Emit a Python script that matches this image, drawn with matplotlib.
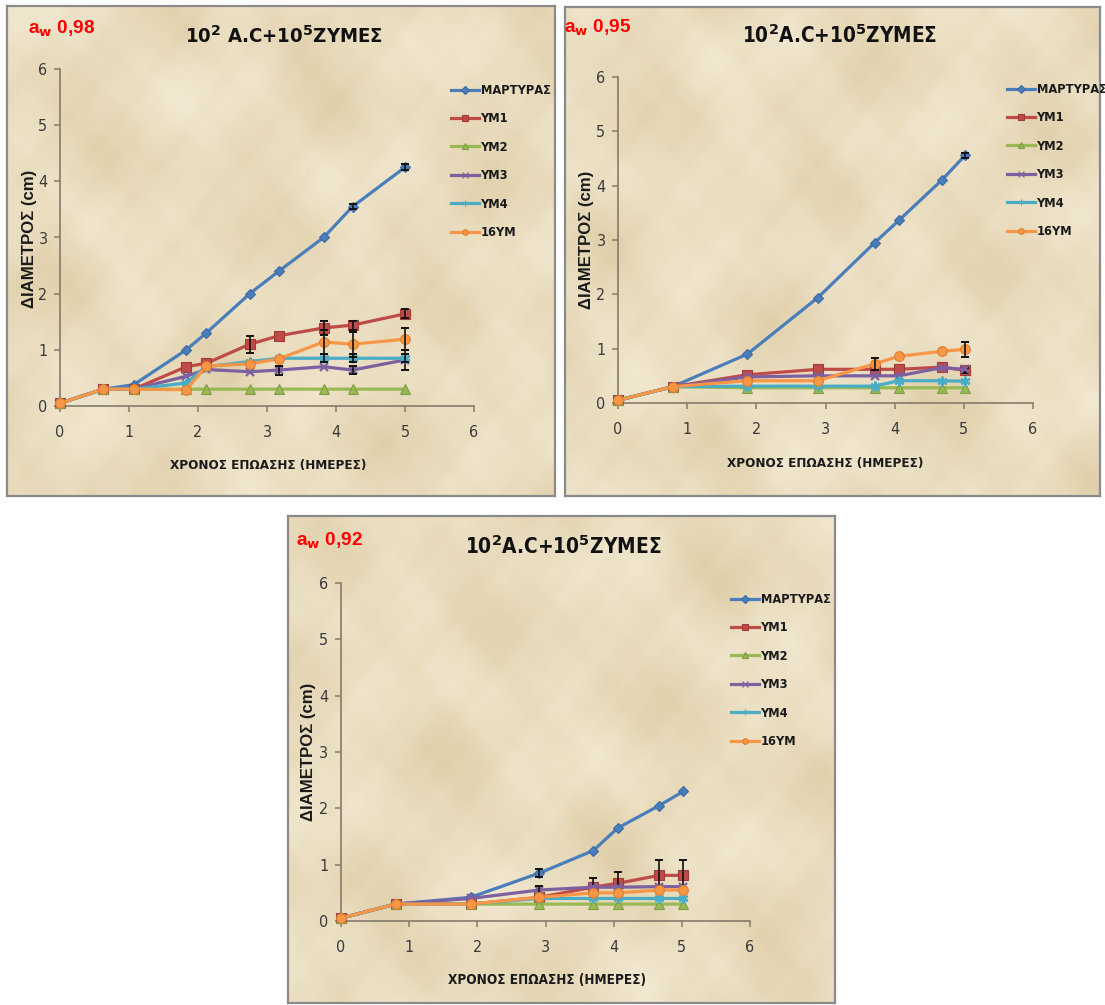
import os
import numpy as np
import matplotlib
matplotlib.use("Agg")
import matplotlib.pyplot as plt
from matplotlib.lines import Line2D
from matplotlib.font_manager import FontProperties, fontManager

# ---------------------------------------------------------------------------
# Data: colony diameter (cm) against incubation time (days)
# ---------------------------------------------------------------------------
series_names = ["ΜΑΡΤΥΡΑΣ", "YM1", "YM2", "YM3", "YM4", "16YM"]

# a_w 0,98
days_098 = [0, 0.63, 1.07, 1.83, 2.12, 2.75, 3.17, 3.82, 4.24, 5.0]
martyras_098 = [0.05, 0.30, 0.38, 1.00, 1.30, 2.00, 2.40, 3.00, 3.55, 4.25]
ym1_098 = [0.05, 0.30, 0.30, 0.70, 0.76, 1.10, 1.25, 1.39, 1.44, 1.64]
ym2_098 = [0.05, 0.30, 0.30, 0.30, 0.30, 0.30, 0.30, 0.30, 0.30, 0.30]
ym3_098 = [0.05, 0.30, 0.30, 0.53, 0.65, 0.61, 0.64, 0.70, 0.64, 0.82]
ym4_098 = [0.05, 0.30, 0.30, 0.41, 0.70, 0.79, 0.85, 0.85, 0.85, 0.85]
ym16_098 = [0.05, 0.30, 0.30, 0.29, 0.71, 0.75, 0.84, 1.14, 1.10, 1.19]
err_martyras_098 = [0, 0, 0, 0, 0, 0, 0, 0, 0.05, 0.05]
err_ym1_098 = [0, 0, 0, 0, 0, 0.15, 0, 0.13, 0.08, 0.08]
err_ym2_098 = [0, 0, 0, 0, 0, 0, 0, 0, 0, 0]
err_ym3_098 = [0, 0, 0, 0, 0, 0, 0.08, 0, 0.07, 0.18]
err_ym4_098 = [0, 0, 0, 0, 0, 0, 0, 0.07, 0.07, 0.07]
err_ym16_098 = [0, 0, 0, 0, 0, 0, 0, 0.22, 0.22, 0.20]

# a_w 0,95
days_095 = [0, 0.79, 1.87, 2.89, 3.71, 4.06, 4.68, 5.02]
martyras_095 = [0.05, 0.30, 0.90, 1.94, 2.95, 3.36, 4.10, 4.56]
ym1_095 = [0.05, 0.30, 0.52, 0.62, 0.62, 0.62, 0.66, 0.60]
ym2_095 = [0.05, 0.30, 0.28, 0.28, 0.28, 0.28, 0.28, 0.28]
ym3_095 = [0.05, 0.30, 0.48, 0.50, 0.50, 0.50, 0.65, 0.62]
ym4_095 = [0.05, 0.30, 0.31, 0.31, 0.31, 0.41, 0.41, 0.40]
ym16_095 = [0.05, 0.30, 0.41, 0.41, 0.72, 0.86, 0.95, 0.99]
err_martyras_095 = [0, 0, 0, 0, 0, 0, 0, 0.05]
err_ym1_095 = [0, 0, 0, 0, 0, 0, 0, 0.05]
err_ym2_095 = [0, 0, 0, 0, 0, 0, 0, 0]
err_ym3_095 = [0, 0, 0, 0, 0, 0, 0, 0]
err_ym4_095 = [0, 0, 0, 0, 0, 0, 0, 0]
err_ym16_095 = [0, 0, 0, 0, 0.11, 0, 0, 0.14]

# a_w 0,92
days_092 = [0, 0.80, 1.90, 2.91, 3.70, 4.06, 4.67, 5.02]
martyras_092 = [0.05, 0.30, 0.42, 0.85, 1.25, 1.65, 2.05, 2.30]
ym1_092 = [0.05, 0.30, 0.30, 0.42, 0.60, 0.67, 0.81, 0.81]
ym2_092 = [0.05, 0.30, 0.30, 0.30, 0.30, 0.30, 0.30, 0.30]
ym3_092 = [0.05, 0.30, 0.40, 0.55, 0.60, 0.60, 0.61, 0.61]
ym4_092 = [0.05, 0.30, 0.30, 0.40, 0.40, 0.40, 0.40, 0.40]
ym16_092 = [0.05, 0.30, 0.30, 0.42, 0.50, 0.50, 0.55, 0.55]
err_martyras_092 = [0, 0, 0, 0.07, 0, 0, 0, 0]
err_ym1_092 = [0, 0, 0, 0, 0.16, 0.20, 0.27, 0.27]
err_ym2_092 = [0, 0, 0, 0, 0, 0, 0, 0]
err_ym3_092 = [0, 0, 0, 0.08, 0, 0, 0, 0]
err_ym4_092 = [0, 0, 0, 0, 0, 0, 0, 0]
err_ym16_092 = [0, 0, 0, 0, 0, 0, 0, 0]

tick_values = [0, 1, 2, 3, 4, 5, 6]

# ---------------------------------------------------------------------------
# Fonts: prefer a narrow sans face, fall back to DejaVu Sans
# ---------------------------------------------------------------------------
_files = {os.path.basename(f.fname).lower(): f.fname for f in fontManager.ttflist}


def pick_file(names):
    for n in names:
        if n.lower() in _files:
            return _files[n.lower()]
    return None


_nb = pick_file(["LiberationSansNarrow-Bold.ttf", "ArialNarrowBold.ttf",
                 "DejaVuSansCondensed-Bold.ttf", "RobotoCondensed-Bold.ttf",
                 "OpenSans-CondensedBold.ttf", "OpenSans_Condensed-Bold.ttf"])
_nr = pick_file(["LiberationSansNarrow-Regular.ttf", "ArialNarrow.ttf",
                 "DejaVuSansCondensed.ttf", "RobotoCondensed-Regular.ttf",
                 "OpenSans-CondensedRegular.ttf", "OpenSans_Condensed-Regular.ttf"])
_sb = pick_file(["LiberationSans-Bold.ttf"])

FP_NARROW_BOLD = (FontProperties(fname=_nb) if _nb else
                  FontProperties(family="DejaVu Sans", weight="bold", stretch="condensed"))
FP_NARROW = (FontProperties(fname=_nr) if _nr else
             FontProperties(family="DejaVu Sans", stretch="condensed"))
FP_SANS_BOLD = (FontProperties(fname=_sb) if _sb else
                FontProperties(family="DejaVu Sans", weight="bold"))

plt.rcParams["mathtext.fontset"] = "dejavusans"

colors = ["#4A7EBB", "#BE4B48", "#98B954", "#7D60A0", "#4BACC6", "#F79646"]
edges = ["#3A6AA5", "#A33A37", "#7F9E42", "#7D60A0", "#4BACC6", "#E07E2E"]
markers = ["D", "s", "^", "x", (6, 2, 0), "o"]
msizes = [5.5, 7, 7, 6, 7, 7]
AXIS_C = "#857B6A"
TEXT_C = "#3A3A3A"

W, H = 1105, 1005
fig = plt.figure(figsize=(W / 100, H / 100), dpi=100)
fig.patch.set_facecolor("white")
renderer = fig.canvas.get_renderer()


def fig_box(x0, y0, x1, y1):
    return [x0 / W, 1 - y1 / H, (x1 - x0) / W, (y1 - y0) / H]


def fit_width(txt, target_px, vertical=False):
    ext = txt.get_window_extent(renderer)
    size = ext.height if vertical else ext.width
    txt.set_fontsize(txt.get_fontsize() * target_px / size)


def parchment(h, w, off):
    yy, xx = np.mgrid[0:h, 0:w].astype(float)
    xx += off
    yy += off * 0.7
    waves = [(0.031, 0.012, 0.4, 1.0), (-0.018, 0.036, 1.7, 0.9),
             (0.052, -0.027, 2.9, 0.6), (0.011, 0.058, 0.8, 0.5),
             (-0.071, 0.043, 4.1, 0.35), (0.094, 0.061, 5.3, 0.3),
             (0.133, -0.109, 2.2, 0.22), (-0.151, -0.127, 3.6, 0.2),
             (0.241, 0.187, 1.1, 0.12), (-0.207, 0.263, 0.3, 0.1)]
    v = np.zeros_like(xx)
    for kx, ky, ph, a in waves:
        v += a * np.sin(kx * xx + ky * yy + ph)
    v += 0.7 * np.sin(0.023 * xx + 0.9) * np.sin(0.029 * yy + 2.1)
    v = (v - v.min()) / (v.max() - v.min())
    light = np.array([242, 233, 210]) / 255.0
    dark = np.array([224, 207, 170]) / 255.0
    return dark + (light - dark) * v[..., None]


# legend font size chosen so that the longest label spans about 70 px
_probe = fig.text(0, 0, series_names[0], fontproperties=FP_NARROW_BOLD, fontsize=10)
fit_width(_probe, 70)
LEG_SIZE = _probe.get_fontsize()
_probe.remove()
LEG_PX = LEG_SIZE * 100 / 72
LEG_SPACING = max(0.2, (28.4 - 1.015 * LEG_PX) / LEG_PX)


def draw_panel(frame, axbox, days, ys, errs, title, title_xy, title_w,
               aw_text, aw_xy, aw_w, legend_xy, xlabel_xy, xlabel_w,
               ylabel_xy, ylabel_h, off):
    # textured panel background with grey frame
    bg = fig.add_axes(fig_box(*frame))
    fw, fh = frame[2] - frame[0], frame[3] - frame[1]
    bg.imshow(parchment(fh, fw, off), aspect="auto", interpolation="bilinear")
    bg.set_xticks([])
    bg.set_yticks([])
    for sp in bg.spines.values():
        sp.set_color("#8A8A8A")
        sp.set_linewidth(1.6)

    ax = fig.add_axes(fig_box(*axbox))
    ax.patch.set_alpha(0)
    for i, (y, e) in enumerate(zip(ys, errs)):
        z = 3 + 2 * i
        filled = not (markers[i] == "x" or isinstance(markers[i], tuple))
        ax.plot(days, y, color=colors[i], lw=2.3, marker=markers[i],
                ms=msizes[i], mfc=colors[i], mec=edges[i],
                mew=0.8 if filled else 1.6, zorder=z, clip_on=False)
        idx = [k for k in range(len(days)) if e[k] > 0]
        if idx:
            ax.errorbar([days[k] for k in idx], [y[k] for k in idx],
                        yerr=[e[k] for k in idx], fmt="none", ecolor="#111111",
                        elinewidth=1.2, capsize=3, capthick=1.4, zorder=z + 1)

    ax.set_xlim(0, 6)
    ax.set_ylim(0, 6)
    ax.set_xticks(tick_values)
    ax.set_yticks(tick_values)
    ax.set_xticklabels([str(t) for t in tick_values])
    ax.set_yticklabels([str(t) for t in tick_values])
    for s in ("top", "right"):
        ax.spines[s].set_visible(False)
    for s in ("left", "bottom"):
        ax.spines[s].set_color(AXIS_C)
        ax.spines[s].set_linewidth(1.2)
    ax.tick_params(direction="out", length=4, width=1.1, color=AXIS_C,
                   labelcolor=TEXT_C)
    ax.tick_params(axis="x", pad=10)
    ax.tick_params(axis="y", pad=5)
    for lbl in ax.get_xticklabels() + ax.get_yticklabels():
        lbl.set_fontproperties(FP_NARROW)
        lbl.set_fontsize(11.5)

    handles = [Line2D([], [], color=colors[i], lw=2.3, marker=markers[i],
                      ms=4, mfc=colors[i], mec=edges[i], mew=0.8)
               for i in range(len(series_names))]
    prop = FP_NARROW_BOLD.copy()
    prop.set_size(LEG_SIZE)
    leg = ax.legend(handles, series_names, loc="upper left",
                    bbox_to_anchor=(legend_xy[0] / W, 1 - legend_xy[1] / H),
                    bbox_transform=fig.transFigure, frameon=False,
                    handlelength=28 / LEG_PX, handletextpad=0.12,
                    labelspacing=LEG_SPACING, borderpad=0, borderaxespad=0,
                    prop=prop)
    for t in leg.get_texts():
        t.set_color("#1A1A1A")

    t = fig.text(title_xy[0] / W, 1 - title_xy[1] / H, title, ha="center",
                 va="center", fontproperties=FP_NARROW_BOLD, fontsize=17,
                 color="#111111")
    fit_width(t, title_w)
    t = fig.text(aw_xy[0] / W, 1 - aw_xy[1] / H, aw_text, ha="left",
                 va="baseline", fontproperties=FP_SANS_BOLD, fontsize=13,
                 color="#FF0000")
    fit_width(t, aw_w)
    t = fig.text(xlabel_xy[0] / W, 1 - xlabel_xy[1] / H,
                 "ΧΡΟΝΟΣ ΕΠΩΑΣΗΣ (ΗΜΕΡΕΣ)", ha="center", va="center",
                 fontproperties=FP_NARROW_BOLD, fontsize=10, color="#1A1A1A")
    fit_width(t, xlabel_w)
    t = fig.text(ylabel_xy[0] / W, 1 - ylabel_xy[1] / H, "ΔΙΑΜΕΤΡΟΣ (cm)",
                 ha="center", va="center", rotation=90,
                 fontproperties=FP_SANS_BOLD, fontsize=10, color="#1A1A1A")
    fit_width(t, ylabel_h, vertical=True)


draw_panel(frame=(7, 6, 555, 496), axbox=(60, 69, 474, 406), days=days_098,
           ys=[martyras_098, ym1_098, ym2_098, ym3_098, ym4_098, ym16_098],
           errs=[err_martyras_098, err_ym1_098, err_ym2_098, err_ym3_098,
                 err_ym4_098, err_ym16_098],
           title=r"10$^{\mathbf{2}}$ A.C+10$^{\mathbf{5}}$ΖΥΜΕΣ",
           title_xy=(284, 36), title_w=198,
           aw_text=r"a$_{\mathbf{w}}$ 0,98", aw_xy=(28, 34), aw_w=67,
           legend_xy=(451, 84), xlabel_xy=(268, 466), xlabel_w=196,
           ylabel_xy=(30, 239), ylabel_h=138, off=0)

draw_panel(frame=(565, 7, 1100, 496), axbox=(618, 77, 1033, 403),
           days=days_095,
           ys=[martyras_095, ym1_095, ym2_095, ym3_095, ym4_095, ym16_095],
           errs=[err_martyras_095, err_ym1_095, err_ym2_095, err_ym3_095,
                 err_ym4_095, err_ym16_095],
           title=r"10$^{\mathbf{2}}$A.C+10$^{\mathbf{5}}$ΖΥΜΕΣ",
           title_xy=(840, 35), title_w=195,
           aw_text=r"a$_{\mathbf{w}}$ 0,95", aw_xy=(564, 33), aw_w=67,
           legend_xy=(1007, 83), xlabel_xy=(825, 463), xlabel_w=196,
           ylabel_xy=(586, 240), ylabel_h=138, off=173)

draw_panel(frame=(288, 516, 835, 1003), axbox=(341, 583, 750, 921),
           days=days_092,
           ys=[martyras_092, ym1_092, ym2_092, ym3_092, ym4_092, ym16_092],
           errs=[err_martyras_092, err_ym1_092, err_ym2_092, err_ym3_092,
                 err_ym4_092, err_ym16_092],
           title=r"10$^{\mathbf{2}}$A.C+10$^{\mathbf{5}}$ΖΥΜΕΣ",
           title_xy=(563, 546), title_w=196,
           aw_text=r"a$_{\mathbf{w}}$ 0,92", aw_xy=(296, 546), aw_w=67,
           legend_xy=(731, 593), xlabel_xy=(547, 980), xlabel_w=198,
           ylabel_xy=(308, 752), ylabel_h=138, off=391)

fig.savefig("out.png", dpi=100, facecolor="white")
